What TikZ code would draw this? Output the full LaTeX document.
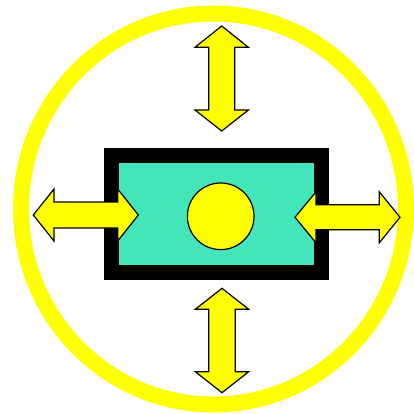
\documentclass[tikz,border=0pt]{standalone}
\definecolor{teal2}{HTML}{42E6BA}
\definecolor{yel}{HTML}{FFFF00}
\tikzset{
  ringline/.style={draw=yel,line width=16pt},
  frame/.style={draw=black,fill=teal2,line width=15.5pt,line join=miter},
  arrowshape/.style={draw=black,fill=yel,line width=1.2pt,line join=miter},
  dot/.style={draw=black,fill=yel,line width=1.2pt}
}
\begin{document}
\begin{tikzpicture}[x=1pt,y=-1pt]
\useasboundingbox (0,0) rectangle (414,414);
\fill[white] (0,0) rectangle (414,414);
% outer ring
\draw[ringline] (213.5,209) ellipse [x radius=192.5, y radius=195.5];
% framed box
\draw[frame] (111.7,155.7) rectangle (321.5,272.4);
% inner disc
\draw[dot] (220.7,216.3) circle [radius=33.3];
% top arrow
\draw[arrowshape] (221.7,26) -- (248.4,47.3) -- (234.7,47.3) -- (234.7,110) -- (248.4,110) -- (221.7,131)
  -- (195,110) -- (208.7,110) -- (208.7,47.3) -- (195,47.3) -- cycle;
% bottom arrow
\draw[arrowshape] (222,288.3) -- (248.7,309.3) -- (235.3,309.3) -- (235.3,371.7) -- (248.7,371.7) -- (222,392.7)
  -- (195.3,371.7) -- (208.7,371.7) -- (208.7,309.3) -- (195.3,309.3) -- cycle;
% left arrow
\draw[arrowshape] (33.3,215) -- (54,189) -- (54,202) -- (117.7,202) -- (117.7,189) -- (138.3,215)
  -- (117.7,241) -- (117.7,228) -- (54,228) -- (54,241) -- cycle;
% right arrow
\draw[arrowshape] (295,217.3) -- (316,191.8) -- (316,204.8) -- (379.3,204.8) -- (379.3,191.8) -- (400,217.3)
  -- (379.3,242.8) -- (379.3,229.8) -- (316,229.8) -- (316,242.8) -- cycle;
\end{tikzpicture}
\end{document}
